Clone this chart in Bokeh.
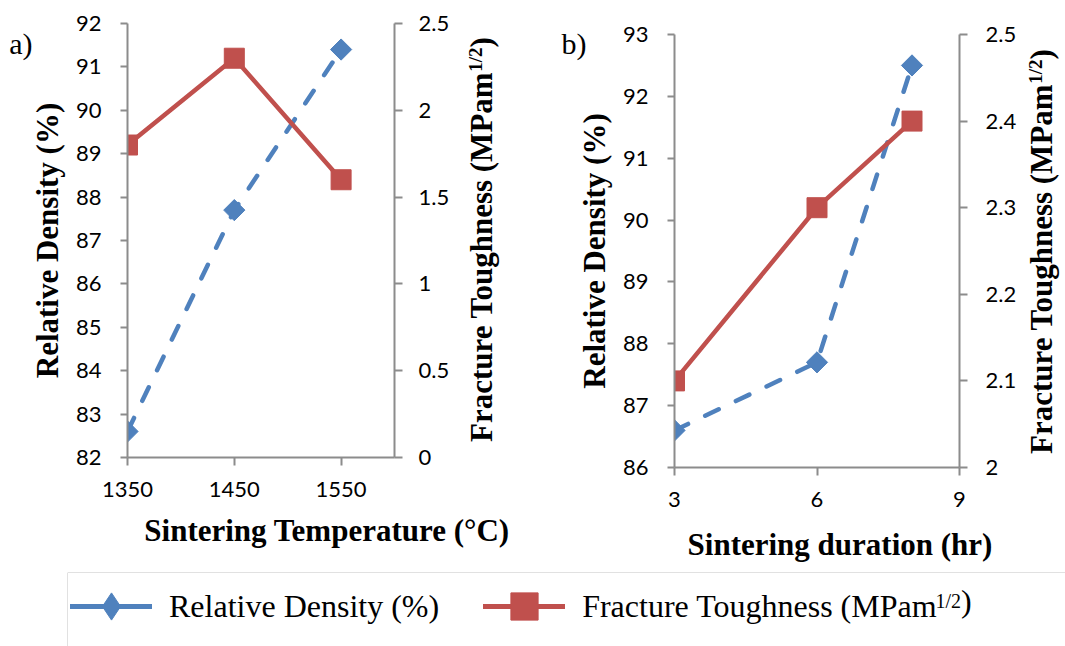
import json
import math
from bokeh.plotting import figure
from bokeh.models import (Range1d, LinearAxis, FixedTicker, CustomJSTickFormatter,
                          Label, Legend, LegendItem, Span)
from bokeh.layouts import row, column
from bokeh.embed import file_html
from bokeh.resources import INLINE

# ---------------- data ----------------
temp_c = [1350, 1450, 1550]
density_a = [82.6, 87.7, 91.4]
toughness_a = [1.8, 2.3, 1.6]

duration_hr = [3, 6, 8]
density_b = [86.6, 87.7, 92.5]
toughness_b = [2.1, 2.3, 2.4]

temp_ticks = [1350, 1450, 1550]
dens_ticks_a = [82, 83, 84, 85, 86, 87, 88, 89, 90, 91, 92]
tough_ticks_a = [0, 0.5, 1, 1.5, 2, 2.5]
dur_ticks = [3, 6, 9]
dens_ticks_b = [86, 87, 88, 89, 90, 91, 92, 93]
tough_ticks_b = [2, 2.1, 2.2, 2.3, 2.4, 2.5]

panel_labels = ["a)", "b)"]
x_titles = ["Sintering Temperature (°C)", "Sintering duration (hr)"]
density_title = "Relative Density (%)"
toughness_parts = ["Fracture Toughness (MPam", "1/2", ")"]
legend_names = ["Relative Density (%)", "Fracture Toughness (MPam"]

# ---------------- style ----------------
BLUE = "#4f81bd"
RED = "#c0504d"
AXIS = "#8c8c8c"
TICK_FONT = "Lato"
SERIF = "Liberation Serif"
FMT = "return String(Math.round(tick*10)/10);"


def no_align(p):
    if "frame_align" in p.properties():
        p.frame_align = False


def blank(width, height, left=0):
    """Axis-less figure whose frame holds free text."""
    s = figure(width=width, height=height, x_range=Range1d(0, 1), y_range=Range1d(0, 1),
               x_axis_type=None, y_axis_type=None, toolbar_location=None,
               output_backend="svg", min_border_left=left, min_border_right=0,
               min_border_top=0, min_border_bottom=0, outline_line_color=None)
    no_align(s)
    s.grid.visible = False
    return s


def style_axis(ax, ticks, tick_out, standoff):
    ax.ticker = FixedTicker(ticks=ticks)
    ax.formatter = CustomJSTickFormatter(code=FMT)
    ax.axis_line_color = AXIS
    ax.axis_line_width = 2
    ax.major_tick_line_color = AXIS
    ax.major_tick_line_width = 2
    ax.major_tick_in = 0
    ax.major_tick_out = tick_out
    ax.minor_tick_line_color = None
    ax.major_label_text_font = TICK_FONT
    ax.major_label_text_font_size = "22px"
    ax.major_label_text_color = "black"
    ax.major_label_standoff = standoff


def chart(width, height, bl, br, bt, bb, xr, yr, y2r, xticks, yticks, y2ticks,
          xs, dens, tough, r_standoff, panel_text, panel_tick, panel_standoff):
    p = figure(width=width, height=height, x_range=Range1d(*xr), y_range=Range1d(*yr),
               toolbar_location=None, output_backend="svg",
               min_border_left=bl, min_border_right=br,
               min_border_top=bt, min_border_bottom=bb,
               outline_line_color=None, background_fill_color="white",
               border_fill_color="white")
    no_align(p)
    p.extra_y_ranges = {"tough": Range1d(*y2r)}
    p.xgrid.visible = False
    p.ygrid.visible = False
    style_axis(p.xaxis[0], xticks, 8, 16)
    ya = p.yaxis[0]
    style_axis(ya, yticks, 7, 19)
    ya.axis_label = density_title
    ya.axis_label_text_font = SERIF
    ya.axis_label_text_font_size = "31px"
    ya.axis_label_text_font_style = "bold"
    ya.axis_label_text_color = "black"
    ya.axis_label_standoff = 8

    ax2 = LinearAxis(y_range_name="tough")
    style_axis(ax2, y2ticks, 8, r_standoff)
    p.add_layout(ax2, "right")

    # panel tag ("a)" / "b)") shown as the only label of a bare outer axis
    tag = LinearAxis(ticker=FixedTicker(ticks=[panel_tick]),
                     formatter=CustomJSTickFormatter(code=f"return {json.dumps(panel_text)};"),
                     axis_line_color=None, major_tick_line_color=None,
                     minor_tick_line_color=None, major_tick_in=0, major_tick_out=0,
                     major_label_standoff=panel_standoff,
                     major_label_text_font=SERIF, major_label_text_font_size="30px",
                     major_label_text_color="black")
    p.add_layout(tag, "left")

    p.line(xs, dens, line_color=BLUE, line_width=4.5, line_dash="15 19",
           line_cap="round")
    p.scatter(xs, dens, marker="square", angle=math.pi / 4, size=15,
              fill_color=BLUE, line_color=BLUE)
    p.line(xs, tough, y_range_name="tough", line_color=RED, line_width=4.5,
           line_join="round")
    p.scatter(xs, tough, y_range_name="tough", marker="square", size=20,
              fill_color=RED, line_color=RED)
    return p


def title_strip(width, height, x_mid, y_start):
    """Strip holding the rotated toughness title with a real superscript."""
    s = blank(width, height)
    y_end = y_start + 372
    common = dict(x_units="screen", y_units="screen", text_font=SERIF,
                  text_font_style="bold", text_color="black", angle=math.pi / 2,
                  text_baseline="middle")
    s.add_layout(Label(x=x_mid, y=y_end, text=toughness_parts[0], text_align="right",
                       text_font_size="31px", **common))
    s.add_layout(Label(x=x_mid - 6, y=y_end, text=toughness_parts[1], text_align="left",
                       text_font_size="19px", **common))
    s.add_layout(Label(x=x_mid, y=y_end + 24.3, text=toughness_parts[2], text_align="left",
                       text_font_size="31px", **common))
    return s


def xtitle_strip(width, height, x_center, y_bottom, text):
    s = blank(width, height)
    s.add_layout(Label(x=x_center, y=y_bottom, x_units="screen", y_units="screen",
                       text=text, text_font=SERIF, text_font_size="31px",
                       text_font_style="bold", text_color="black",
                       text_align="center", text_baseline="bottom"))
    return s


# ---------------- chart a ----------------
pa = chart(455, 510, 127, 61, 23, 53, (1350, 1600), (82, 92), (0, 2.5),
           temp_ticks, dens_ticks_a, tough_ticks_a, temp_c, density_a, toughness_a,
           16, panel_labels[0], 91.55, -6)
sa = title_strip(85, 510, 25.5, 66.7)
xa = xtitle_strip(540, 61, 326.5, 23.3, x_titles[0])

# ---------------- chart b ----------------
pb = chart(480, 525, 134, 61, 34, 58, (3, 9), (86, 93), (2, 2.5),
           dur_ticks, dens_ticks_b, tough_ticks_b, duration_hr, density_b, toughness_b,
           18, panel_labels[1], 92.86, -13)
sb_ = title_strip(45, 525, 20.5, 69.7)
xb = xtitle_strip(525, 46, 299.5, 9.3, x_titles[1])

# ---------------- legend strip ----------------
pl = blank(1065, 75, left=67)
pl.min_border_top = 1
pl.add_layout(Span(location=1, dimension="width", line_color="#c4c4c4", line_width=1))
pl.add_layout(Span(location=0, dimension="height", line_color="#c4c4c4", line_width=1))

# legend samples (the series themselves fall outside this strip's ranges)
lb = pl.line(duration_hr, density_b, line_color=BLUE, line_width=5, line_cap="round")
sb = pl.scatter(duration_hr, density_b, marker="diamond", fill_color=BLUE, line_color=BLUE)
lr = pl.line(duration_hr, toughness_b, line_color=RED, line_width=5, line_cap="round")
sr = pl.scatter(duration_hr, toughness_b, marker="square", fill_color=RED, line_color=RED)

legend = Legend(items=[LegendItem(label=legend_names[0], renderers=[lb, sb]),
                       LegendItem(label=legend_names[1], renderers=[lr, sr])],
                location=(3, 6), orientation="horizontal",
                glyph_width=82, glyph_height=68, label_standoff=17, spacing=44,
                padding=0, margin=0, border_line_color=None,
                background_fill_alpha=0,
                label_text_font=SERIF, label_text_font_size="32px",
                label_text_color="black")
pl.add_layout(legend)
pl.add_layout(Label(x=868, y=35, x_units="screen", y_units="screen", text="1/2",
                    text_font=SERIF, text_font_size="20px", text_color="black"))
pl.add_layout(Label(x=893.6, y=28, x_units="screen", y_units="screen", text=")",
                    text_font=SERIF, text_font_size="32px", text_color="black"))

top = row(column(row(pa, sa), xa), column(row(pb, sb_), xb))
layout = column(top, pl)
open("out.html", "w").write(file_html(layout, INLINE))
